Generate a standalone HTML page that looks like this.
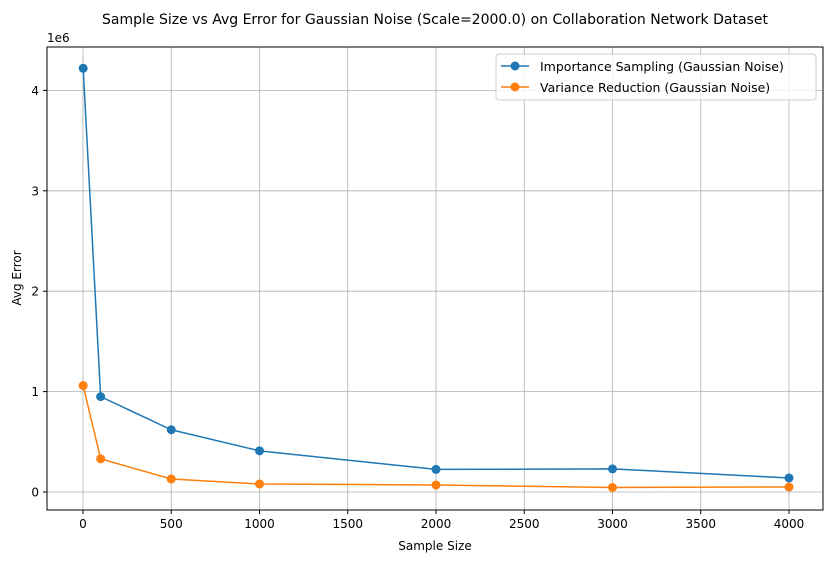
<!DOCTYPE html>
<html><head><meta charset="utf-8"><style>
body{margin:0;background:#fff;font-family:"Liberation Sans","DejaVu Sans",sans-serif}
svg text{font-family:"DejaVu Sans","Liberation Sans",sans-serif;fill:#000}
</style></head><body>
<svg id="chart" width="840" height="562" xmlns="http://www.w3.org/2000/svg">
<text x="435" y="24" text-anchor="middle" font-size="14">Sample Size vs Avg Error for Gaussian Noise (Scale=2000.0) on Collaboration Network Dataset</text>
<g id="grid"></g>
<g id="series"></g>
<rect x="47" y="47" width="776" height="463" fill="none" stroke="#000" stroke-width="1"/>
<g id="ticks"></g>
<text x="47" y="42" font-size="12">1e6</text>
<text x="435" y="550" text-anchor="middle" font-size="12">Sample Size</text>
<text transform="translate(21,278) rotate(-90)" text-anchor="middle" font-size="12">Avg Error</text>
<g>
<rect x="496" y="54" width="320" height="46" rx="3" fill="#fff" fill-opacity="0.8" stroke="#ccc"/>
<line x1="501" y1="66" x2="529" y2="66" stroke="#1f77b4" stroke-width="1.5"/><circle cx="515" cy="66" r="4.5" fill="#1f77b4"/>
<text x="540" y="71" font-size="12.5">Importance Sampling (Gaussian Noise)</text>
<line x1="501" y1="87" x2="529" y2="87" stroke="#ff7f0e" stroke-width="1.5"/><circle cx="515" cy="87" r="4.5" fill="#ff7f0e"/>
<text x="540" y="92" font-size="12.5">Variance Reduction (Gaussian Noise)</text>
</g>
</svg>
<script>
const sampleSizes=[1,100,500,1000,2000,3000,4000];
const importanceErr=[4.22e6,0.95e6,0.62e6,0.41e6,0.225e6,0.23e6,0.14e6];
const varianceErr=[1.06e6,0.33e6,0.13e6,0.08e6,0.07e6,0.045e6,0.05e6];
const xTicks=[0,500,1000,1500,2000,2500,3000,3500,4000];
const yTicks=[0,1,2,3,4];
const NS="http://www.w3.org/2000/svg";
const X=v=>83+(v)*(706/4000);
const Y=v=>492-v/1e6*100.4;
function mk(t,a,p){const e=document.createElementNS(NS,t);for(const k in a)e.setAttribute(k,a[k]);p.appendChild(e);return e;}
const grid=document.getElementById('grid'),ticks=document.getElementById('ticks'),ser=document.getElementById('series');
xTicks.forEach(t=>{const x=X(t);
const g=mk('line',{x1:x,x2:x,y1:47,y2:510,stroke:'#b0b0b0','stroke-width':0.8},grid);

mk('line',{x1:x,x2:x,y1:510,y2:514,stroke:'#000'},ticks);
const tx=mk('text',{x:x,y:528,'text-anchor':'middle','font-size':12},ticks);tx.textContent=t;
});
yTicks.forEach(t=>{const y=Y(t*1e6);
const g=mk('line',{x1:47,x2:823,y1:y,y2:y,stroke:'#b0b0b0','stroke-width':0.8},grid);

mk('line',{x1:43,x2:47,y1:y,y2:y,stroke:'#000'},ticks);
const tx=mk('text',{x:39,y:y+4.5,'text-anchor':'end','font-size':12},ticks);tx.textContent=t;
});
[[importanceErr,'#1f77b4','importance-sampling'],[varianceErr,'#ff7f0e','variance-reduction']].forEach(([d,c,n])=>{
const pl=mk('polyline',{points:d.map((v,i)=>X(sampleSizes[i])+','+Y(v)).join(' '),fill:'none',stroke:c,'stroke-width':1.5},ser);

d.forEach((v,i)=>{const p=mk('circle',{cx:X(sampleSizes[i]),cy:Y(v),r:4.5,fill:c},ser);
});});
</script>
</body></html>
